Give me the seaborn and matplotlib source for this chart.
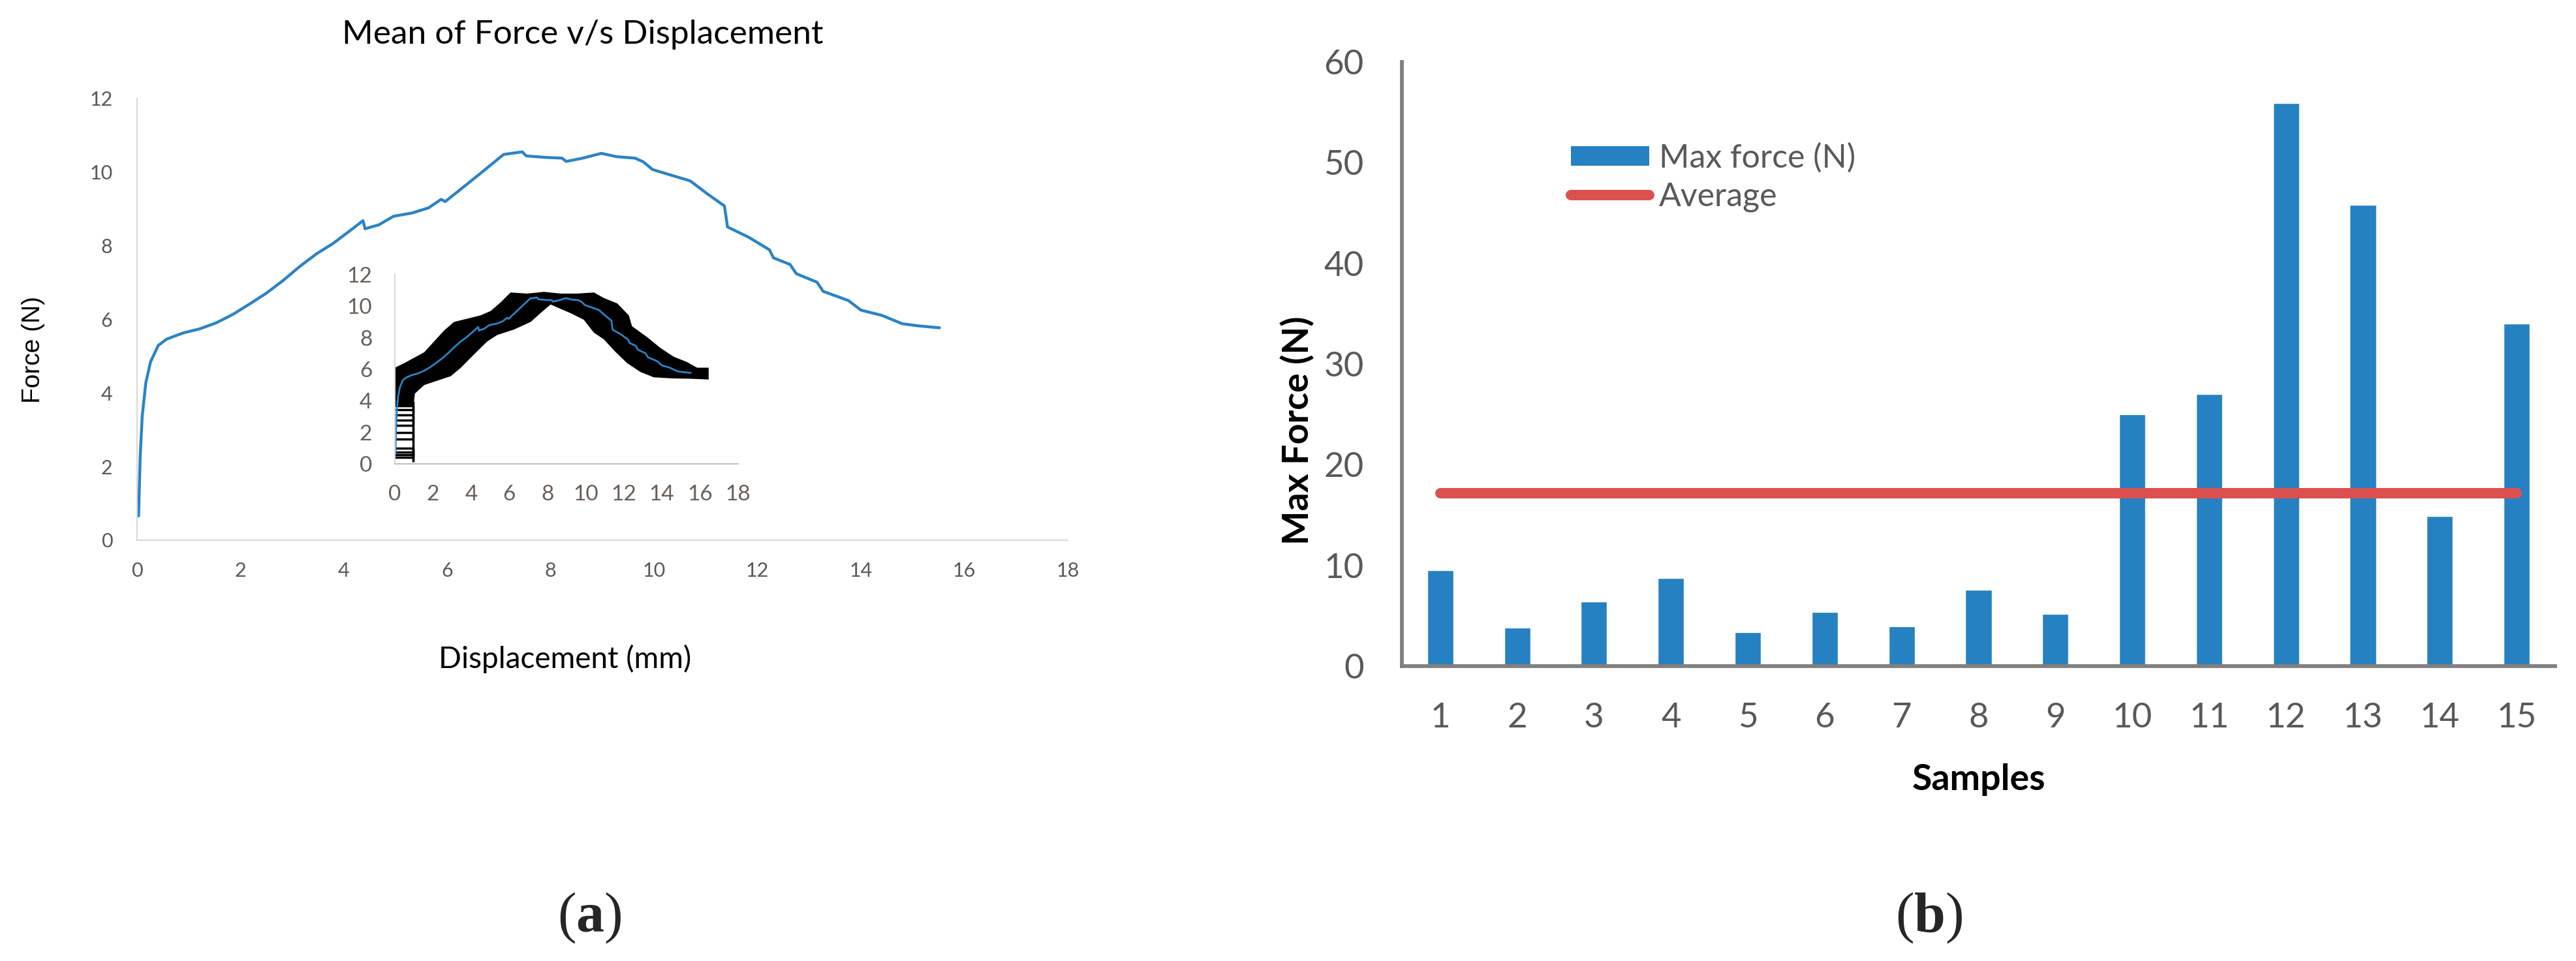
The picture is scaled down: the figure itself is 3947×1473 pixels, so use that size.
import matplotlib
matplotlib.use("Agg")
import matplotlib.pyplot as plt
from matplotlib.patches import Patch
from matplotlib.lines import Line2D
import seaborn as sns
import pandas as pd
import numpy as np

sns.set_theme(style="white")
plt.rcParams['font.family'] = ['Lato', 'DejaVu Sans']
plt.rcParams['mathtext.fontset'] = 'custom'
plt.rcParams['mathtext.rm'] = 'Liberation Serif'
plt.rcParams['mathtext.bf'] = 'Liberation Serif:bold'

# ---- data: mean force vs displacement ----
displacement = [0.03, 0.06, 0.10, 0.17, 0.26, 0.41, 0.57, 0.89, 1.21, 1.54, 1.86, 2.18,
                2.50, 2.82, 3.15, 3.47, 3.79, 4.11, 4.37, 4.41, 4.68, 4.96, 5.32, 5.64,
                5.88, 5.96, 6.21, 6.61, 7.09, 7.45, 7.53, 7.90, 8.22, 8.30, 8.62, 8.98,
                9.27, 9.63, 9.79, 9.97, 10.30, 10.70, 11.02, 11.36, 11.42, 11.83, 12.23,
                12.31, 12.63, 12.75, 13.15, 13.27, 13.76, 14.00, 14.40, 14.80, 15.13, 15.52]
force = [0.66, 2.24, 3.37, 4.28, 4.84, 5.29, 5.46, 5.63, 5.74, 5.91, 6.14, 6.42,
         6.71, 7.05, 7.44, 7.78, 8.06, 8.40, 8.68, 8.46, 8.57, 8.80, 8.89, 9.03,
         9.26, 9.20, 9.48, 9.93, 10.48, 10.55, 10.44, 10.40, 10.38, 10.29, 10.38, 10.51,
         10.42, 10.38, 10.28, 10.07, 9.93, 9.76, 9.42, 9.08, 8.51, 8.23, 7.89,
         7.67, 7.49, 7.24, 7.01, 6.76, 6.51, 6.25, 6.11, 5.88, 5.82, 5.77]

# spread band of the individual tests (inset), upper edge left->right, lower edge right->left
band_upper_x = [0, 0.49, 1.01, 1.54, 2.06, 2.58, 3.10, 3.80, 4.50, 5.03, 5.55, 6.07, 6.95,
                7.82, 8.69, 9.56, 10.44, 10.96, 11.66, 12.27, 12.44, 13.23, 13.93, 14.62,
                15.32, 15.85, 16.46]
band_upper_y = [6.1, 6.39, 6.73, 7.08, 7.77, 8.46, 9.0, 9.21, 9.42, 9.70, 10.25, 10.87, 10.8,
                10.91, 10.8, 10.8, 10.87, 10.52, 10.18, 9.42, 8.73, 8.04, 7.35, 6.8,
                6.46, 6.1, 6.1]
band_lower_x = [16.46, 15.5, 14.54, 13.58, 12.88, 12.18, 11.48, 10.96, 10.44, 9.91, 9.22,
                8.69, 8.17, 7.64, 7.12, 6.25, 5.38, 4.85, 4.15, 3.46, 2.93, 2.23, 1.54,
                1.05, 0.98, 0]
band_lower_y = [5.35, 5.4, 5.42, 5.49, 5.83, 6.39, 7.21, 7.9, 8.32, 9.14, 9.56,
                9.83, 10.11, 9.56, 9.0, 8.52, 8.18, 7.77, 6.94, 6.1, 5.56, 5.28, 5.0,
                4.46, 3.7, 3.7]
# horizontal error bars at the start of the tests
start_force = [3.68, 3.43, 3.10, 2.77, 2.44, 1.99, 1.57, 0.99, 0.74, 0.58, 0.4]
start_xerr = [0.95] * len(start_force)

# ---- data: max force per sample ----
samples = list(range(1, 16))
max_force = [9.5, 3.8, 6.4, 8.75, 3.4, 5.4, 3.95, 7.6, 5.2, 25.0, 27.0, 55.9, 45.8, 14.9, 34.0]
average = 17.2

BLUE = "#2b84c6"
BAR_BLUE = "#2581c2"
RED = "#dd5050"
GRAY_TXT = "#595959"

fig = plt.figure(figsize=(39.47, 14.73), dpi=100)

# ================= (a) =================
ax1 = fig.add_axes([0.0532, 0.4379, 0.3613, 0.4596])
df_mean = pd.DataFrame({'Displacement': displacement, 'Force': force})
sns.lineplot(data=df_mean, x='Displacement', y='Force', sort=False, estimator=None,
             color=BLUE, linewidth=3.2, ax=ax1)
ax1.set_xlim(0, 18)
ax1.set_ylim(0, 12)
ax1.set_xticks(np.arange(0, 19, 2))
ax1.set_yticks(np.arange(0, 13, 2))
ax1.set_xlabel('')
ax1.set_ylabel('')
ax1.tick_params(axis='both', length=0, labelsize=22, labelcolor=GRAY_TXT)
ax1.tick_params(axis='y', pad=27)
ax1.tick_params(axis='x', pad=24)
for s in ['top', 'right']:
    ax1.spines[s].set_visible(False)
for s in ['left', 'bottom']:
    ax1.spines[s].set_color('#d9d9d9')
    ax1.spines[s].set_linewidth(1.5)

# inset with the spread of all tests
axin = fig.add_axes([0.1533, 0.5173, 0.1332, 0.1969])
axin.set_facecolor('none')
axin.fill(band_upper_x + band_lower_x, band_upper_y + band_lower_y, color='black', lw=0)
axin.errorbar([0] * len(start_force), start_force, xerr=start_xerr, fmt='none',
              ecolor='black', elinewidth=2.5, capsize=5, capthick=2.5)
sns.lineplot(data=df_mean, x='Displacement', y='Force', sort=False, estimator=None,
             color=BLUE, linewidth=2, ax=axin)
axin.set_xlim(0, 18)
axin.set_ylim(0, 12)
axin.set_xticks(np.arange(0, 19, 2))
axin.set_yticks(np.arange(0, 13, 2))
axin.set_xlabel('')
axin.set_ylabel('')
axin.tick_params(axis='both', length=0, labelsize=24, labelcolor='#6a5f58')
axin.tick_params(axis='y', pad=25)
axin.tick_params(axis='x', pad=23)
for s in ['top', 'right']:
    axin.spines[s].set_visible(False)
axin.spines['left'].set_color('#d9d9d9')
axin.spines['bottom'].set_color('#bfbfbf')
for s in ['left', 'bottom']:
    axin.spines[s].set_linewidth(1.5)

fig.text(0.2262, 0.9545, 'Mean of Force v/s Displacement', fontsize=37, ha='center',
         va='baseline', color='black')
fig.text(0.2192, 0.3048, 'Displacement (mm)', fontsize=33, ha='center', va='baseline',
         color='black')
fig.text(0.0129, 0.6361, 'Force (N)', fontsize=28, rotation=90, ha='center', va='center',
         family='Liberation Sans', color='black')

# ================= (b) =================
ax2 = fig.add_axes([0.5442, 0.3068, 0.4477, 0.6287])
df_max = pd.DataFrame({'Sample': samples, 'Max force (N)': max_force,
                       'Average': [average] * len(samples)})
sns.barplot(data=df_max, x='Sample', y='Max force (N)', color=BAR_BLUE, saturation=1,
            width=0.34, ax=ax2)
sns.pointplot(data=df_max, x='Sample', y='Average', color=RED, markers='',
              linestyles='-', ax=ax2)
for ln in ax2.lines:
    ln.set_linewidth(11.5)
    ln.set_solid_capstyle('round')
ax2.set_xlim(-0.5, 14.5)
ax2.set_ylim(0, 60)
ax2.set_yticks(np.arange(0, 61, 10))
ax2.set_xlabel('')
ax2.set_ylabel('')
ax2.tick_params(axis='both', length=0, labelsize=38, labelcolor=GRAY_TXT)
ax2.tick_params(axis='y', pad=42)
ax2.tick_params(axis='x', pad=40)
for s in ['top', 'right']:
    ax2.spines[s].set_visible(False)
for s in ['left', 'bottom']:
    ax2.spines[s].set_color('#808080')
    ax2.spines[s].set_linewidth(4.2)

handles = [Patch(facecolor=BAR_BLUE, edgecolor='none'),
           Line2D([], [], color=RED, linewidth=11.5, solid_capstyle='round')]
fig.legend(handles, ['Max force (N)', 'Average'], loc='upper left',
           bbox_to_anchor=(0.6035, 0.868), frameon=False, fontsize=36,
           handlelength=2.4, handleheight=0.55, handletextpad=0.3, labelspacing=0.25,
           borderpad=0, labelcolor=GRAY_TXT)

fig.text(0.5037, 0.5519, 'Max Force (N)', fontsize=40, fontweight='bold', rotation=90,
         ha='center', va='center', color='black')
fig.text(0.7682, 0.1779, 'Samples', fontsize=40, fontweight='bold', ha='center',
         va='baseline', color='black')

# panel labels
fig.text(0.2288, 0.0305, r'($\mathbf{a}$)', fontsize=62, ha='center', va='baseline',
         family='Liberation Serif')
fig.text(0.7489, 0.0299, r'($\mathbf{b}$)', fontsize=62, ha='center', va='baseline',
         family='Liberation Serif')

fig.savefig('out.png', dpi=100, facecolor='white')
